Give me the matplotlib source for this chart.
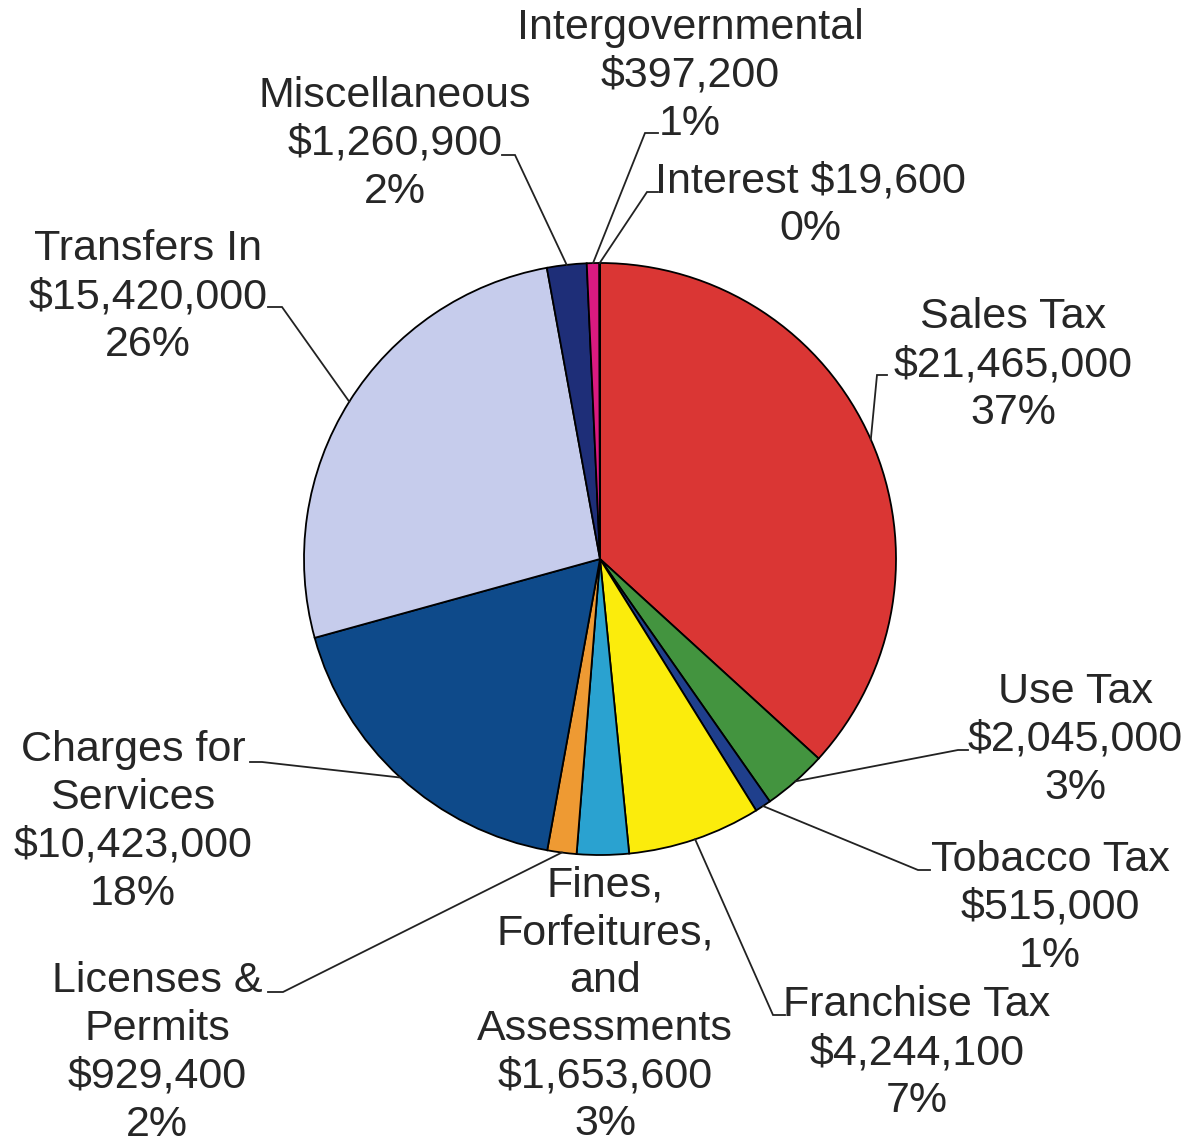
import matplotlib.pyplot as plt
import numpy as np

W, H = 1185, 1144

# Fuentes de ingreso (en sentido horario desde arriba)
categorias = ["Sales Tax", "Use Tax", "Tobacco Tax", "Franchise Tax",
              "Fines,\nForfeitures,\nand\nAssessments", "Licenses &\nPermits",
              "Charges for\nServices", "Transfers In", "Miscellaneous",
              "Intergovernmental", "Interest"]
montos = [21465000, 2045000, 515000, 4244100, 1653600, 929400,
          10423000, 15420000, 1260900, 397200, 19600]
porcentajes = ["37%", "3%", "1%", "7%", "3%", "2%", "18%", "26%", "2%", "1%", "0%"]
colores = ["#DA3634", "#43943F", "#1F3F8C", "#FBEC0C", "#2AA2D0", "#EE9A33",
           "#0E4A8A", "#C6CCEC", "#1E2E78", "#DA1A80", "#F0E8F0"]

# Posición del texto (centro del bloque, px desde arriba) y del guion junto al texto
pos_texto = [(1013, 365), (1075, 740), (1050, 908), (917, 1053), (605, 1005),
             (157, 1053), (133, 822), (148, 297), (395, 144), (690, 76), (810, 205)]
guion = [((887, 375), (877, 375)),
         ((968, 750), (958, 750)),
         ((930, 870), (918, 870)),
         ((785, 1015), (773, 1015)),
         None,
         ((268, 992), (283, 992)),
         ((250, 762), (262, 762)),
         ((268, 307), (282, 307)),
         ((502, 155), (515, 155)),
         ((658, 133), (645, 133)),
         ((658, 192), (647, 192))]

centro = (600, H - 559)
radio = 296

fig = plt.figure(figsize=(W / 100, H / 100), dpi=100)
ax = fig.add_axes([0, 0, 1, 1])

wedges, _ = ax.pie(montos, colors=colores, startangle=90, counterclock=False,
                   center=centro, radius=radio,
                   wedgeprops=dict(edgecolor="black", linewidth=1.3))
ax.set_xlim(0, W)
ax.set_ylim(0, H)
ax.set_aspect("equal")
ax.axis("off")

for w, cat, m, pct, (tx, ty), g in zip(wedges, categorias, montos, porcentajes,
                                         pos_texto, guion):
    if cat == "Interest":
        etiqueta = f"Interest ${m:,}\n{pct}"
    else:
        etiqueta = f"{cat}\n${m:,}\n{pct}"
    ax.text(tx, H - ty, etiqueta, ha="center", va="center", fontsize=31,
            family="Liberation Sans", color="#262626", linespacing=1.25)
    if g is None:
        continue
    ang = np.deg2rad((w.theta1 + w.theta2) / 2)
    px = centro[0] + radio * np.cos(ang)
    py = centro[1] + radio * np.sin(ang)
    (x0, y0), (x1, y1) = g
    ax.plot([x0, x1, px], [H - y0, H - y1, py], color="#222222", lw=1.3,
            solid_joinstyle="miter")

plt.savefig("out.png", dpi=100, facecolor="white")
